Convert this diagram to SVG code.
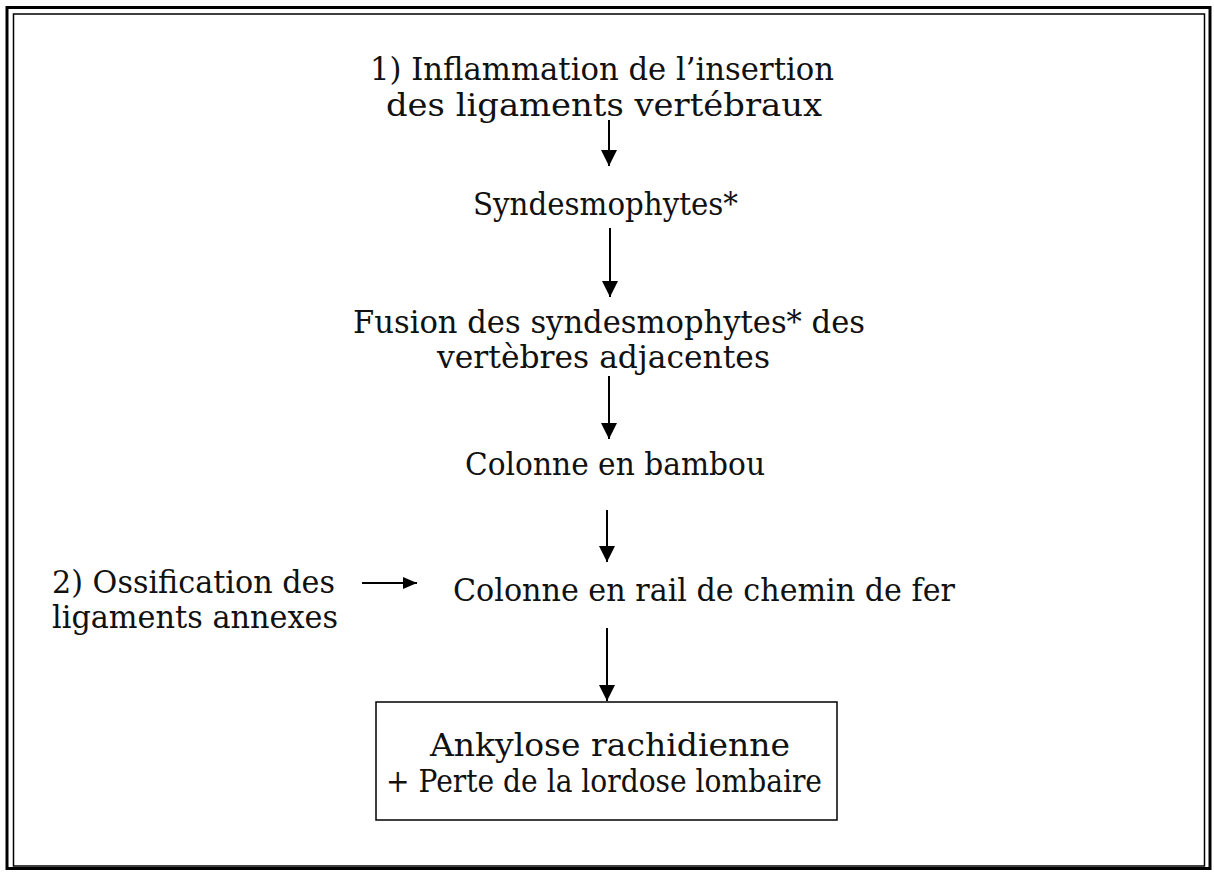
<svg xmlns="http://www.w3.org/2000/svg" width="1214" height="872" viewBox="0 0 1214 872">
<style>
text{font-family:"DejaVu Serif","Liberation Serif",serif;font-size:31px;fill:#111}
.c{stroke:#000;stroke-width:2;fill:none}
</style>
<defs>
<marker id="ah" markerWidth="16" markerHeight="17" refX="16" refY="8" orient="auto" markerUnits="userSpaceOnUse">
<path d="M0,0 L16,8 L0,16 Z" fill="#000"/>
</marker>
<marker id="ahs" markerWidth="14" markerHeight="12" refX="14" refY="6" orient="auto" markerUnits="userSpaceOnUse">
<path d="M0,0 L14,6 L0,12 Z" fill="#000"/>
</marker>
</defs>
<rect width="1214" height="872" fill="#fff"/>
<g id="frame" fill="none" stroke="#000">
<rect x="7" y="7.5" width="1203" height="861" stroke-width="3"/>
<rect x="13.5" y="14" width="1191" height="852" stroke-width="1.5"/>
</g>
<g id="n1"><text x="370" y="80" textLength="464" lengthAdjust="spacingAndGlyphs">1) Inflammation de l’insertion</text>
<text x="386" y="116" textLength="436" lengthAdjust="spacingAndGlyphs">des ligaments vertébraux</text></g>
<g id="n2"><text x="473" y="215" textLength="265" lengthAdjust="spacingAndGlyphs">Syndesmophytes*</text></g>
<g id="n3"><text x="353" y="333" textLength="512" lengthAdjust="spacingAndGlyphs">Fusion des syndesmophytes* des</text>
<text x="437" y="368" textLength="333" lengthAdjust="spacingAndGlyphs">vertèbres adjacentes</text></g>
<g id="n4"><text x="465" y="475" textLength="300" lengthAdjust="spacingAndGlyphs">Colonne en bambou</text></g>
<g id="n5"><text x="453" y="601" textLength="502" lengthAdjust="spacingAndGlyphs">Colonne en rail de chemin de fer</text></g>
<g id="n6"><text x="52" y="593" textLength="283" lengthAdjust="spacingAndGlyphs">2) Ossification des</text>
<text x="52" y="628" textLength="286" lengthAdjust="spacingAndGlyphs">ligaments annexes</text></g>
<g id="n7"><rect x="376" y="702" width="461" height="118" fill="none" stroke="#000" stroke-width="1.5"/>
<text x="430" y="756" textLength="360" lengthAdjust="spacingAndGlyphs">Ankylose rachidienne</text>
<text x="386" y="792" textLength="436" lengthAdjust="spacingAndGlyphs">+ Perte de la lordose lombaire</text></g>
<g id="connectors">
<line class="c" x1="609" y1="120" x2="609" y2="166" marker-end="url(#ah)"/>
<line class="c" x1="610" y1="228" x2="610" y2="297" marker-end="url(#ah)"/>
<line class="c" x1="609" y1="376" x2="609" y2="439" marker-end="url(#ah)"/>
<line class="c" x1="607" y1="510" x2="607" y2="562" marker-end="url(#ah)"/>
<line class="c" x1="607" y1="628" x2="607" y2="701" marker-end="url(#ah)"/>
<line class="c" x1="362" y1="583" x2="417" y2="583" marker-end="url(#ahs)"/>
</g>
</svg>
